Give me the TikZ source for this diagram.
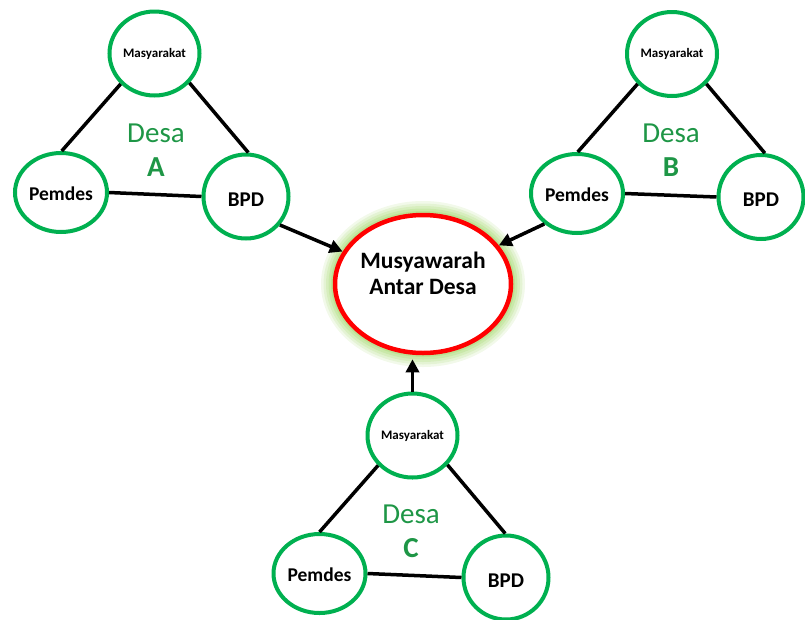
\documentclass[tikz,border=0pt]{standalone}
\usepackage{fontspec}
\setmainfont{Carlito}
\usetikzlibrary{shapes.geometric,arrows.meta}
\definecolor{ringgreen}{RGB}{0,176,80}
\definecolor{desagreen}{RGB}{30,150,70}
\definecolor{glowgreen}{RGB}{146,208,80}
\definecolor{ringred}{RGB}{255,0,0}
\tikzset{
  x=1pt,y=-1pt,
  member/.style={ellipse,draw=ringgreen,line width=4pt,fill=white,inner sep=0pt},
  masy/.style={member,minimum width=90pt,minimum height=84pt,
    label={[font=\bfseries\fontsize{13}{15}\selectfont]center:Masyarakat}},
  pemdes/.style={member,minimum width=92pt,minimum height=79pt,
    label={[font=\bfseries\fontsize{19.5}{22}\selectfont,yshift=-1pt]center:Pemdes}},
  bpd/.style={member,minimum width=85pt,minimum height=84pt,
    label={[font=\bfseries\fontsize{21}{24}\selectfont,yshift=-3pt]center:BPD}},
  link/.style={line width=3.5pt,black},
  flow/.style={line width=3.5pt,black,-{Triangle[length=13pt,width=13pt]}},
  desa/.style={text=desagreen,align=center,font=\fontsize{29}{34}\selectfont},
}
\begin{document}
\begin{tikzpicture}
\useasboundingbox (0,0) rectangle (805,619);

% glow of the central node
\foreach \w/\o in {28/0.12,23/0.14,18/0.16,13/0.2,8/0.25} {
  \draw[glowgreen,line width=\w pt,opacity=\o] (423,284) ellipse [x radius=88,y radius=69];
}
\node[ellipse,draw=ringred,line width=4.5pt,fill=white,minimum width=176pt,minimum height=138pt,inner sep=0pt,
  label={[font=\bfseries\fontsize{23.5}{26}\selectfont,align=center,yshift=11pt]center:Musyawarah\\Antar Desa}]
  (mus) at (423,284) {};

% Desa A
\node[masy] (mA) at (154.5,53.5) {};
\node[pemdes] (pA) at (61,192.5) {};
\node[bpd] (bA) at (246,196.5) {};
\draw[link] (mA.222) -- (pA.89);
\draw[link] (mA.-40) -- (bA.87);
\draw[link] (pA.east) -- (bA.west);
\node[desa] (dA) at (156,150) {Desa\\\textbf{A}};

% Desa B
\node[masy] (mB) at (672,54) {};
\node[pemdes] (pB) at (577,193.5) {};
\node[bpd] (bB) at (761,197) {};
\draw[link] (mB.221) -- (pB.89);
\draw[link] (mB.-41) -- (bB.85);
\draw[link] (pB.east) -- (bB.west);
\node[desa] (dB) at (671,150) {Desa\\\textbf{B}};

% Desa C
\node[masy] (mC) at (412.5,435.5) {};
\node[pemdes] (pC) at (319.5,573.5) {};
\node[bpd] (bC) at (506,577.5) {};
\draw[link] (mC.221) -- (pC.90);
\draw[link] (mC.-40) -- (bC.91);
\draw[link] (pC.east) -- (bC.west);
\node[desa] (dC) at (411,531) {Desa\\\textbf{C}};

% arrows to the meeting
\draw[flow] (bA.-40) -- (mus.158);
\draw[flow] (pB.223) -- (mus.27);
\draw[flow,shorten >=4pt] (mC.north) -- (mC.north |- mus.south);
\end{tikzpicture}
\end{document}
